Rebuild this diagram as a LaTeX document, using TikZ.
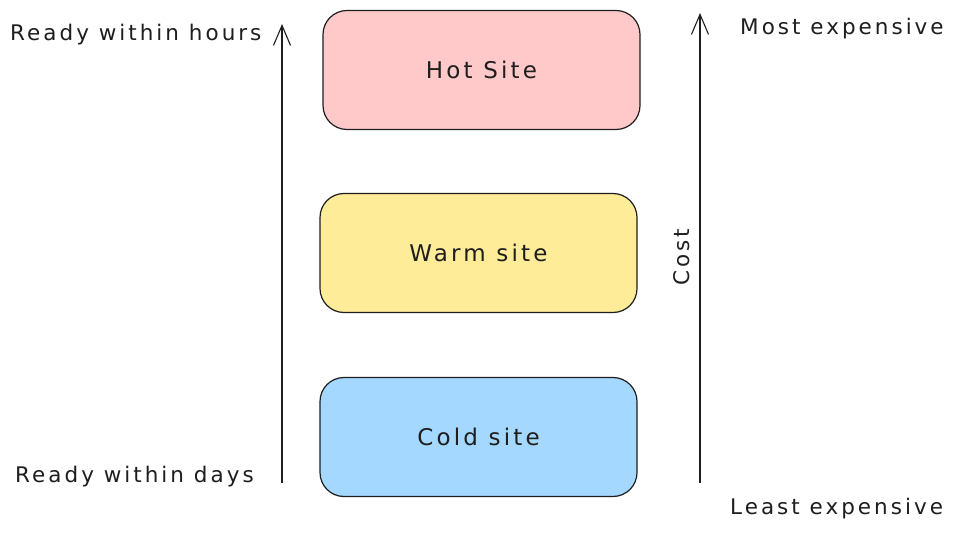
\documentclass[tikz,border=0pt]{standalone}
\usepackage{fontspec}
\setmainfont{DejaVu Sans}[LetterSpace=14]
\usetikzlibrary{arrows.meta}
\definecolor{ink}{HTML}{1E1E1E}
\definecolor{hotc}{HTML}{FFC9C9}
\definecolor{warmc}{HTML}{FFEC99}
\definecolor{coldc}{HTML}{A5D8FF}
\tikzset{
  sitebox/.style={draw=ink, line width=1.2pt, rounded corners=24pt, minimum width=317pt, minimum height=119pt, inner sep=0pt, font=\fontsize{23}{28}\selectfont, text=ink},
  lbl/.style={inner sep=0pt, font=\fontsize{21.5}{26}\selectfont, text=ink},
  axis/.style={draw=ink, line width=1.1pt, -{Straight Barb[length=20pt,width=17pt,line width=1.1pt]}}
}
\begin{document}
\begin{tikzpicture}[x=1pt,y=-1pt]
\useasboundingbox[fill=white] (0,0) rectangle (960,534);
\node[sitebox, fill=hotc] (hot) at (481.5,70) {Hot Site};
\node[sitebox, fill=warmc] (warm) at (478.5,253) {Warm site};
\node[sitebox, fill=coldc] (cold) at (478.5,437) {Cold site};
\coordinate (l0) at (282,483);
\coordinate (l1) at (282,24);
\coordinate (r0) at (700,483);
\coordinate (r1) at (700,13);
\draw[axis] (l0) -- (l1);
\draw[axis] (r0) -- (r1);
\node[lbl, anchor=west] (hours) at (10,35) {Ready within hours};
\node[lbl, anchor=west] (days) at (15,477) {Ready within days};
\node[lbl, anchor=west] (most) at (740,29) {Most expensive};
\node[lbl, anchor=west] (least) at (730,509) {Least expensive};
\node[lbl, rotate=90] (cost) at (682,257) {Cost};
\end{tikzpicture}
\end{document}
